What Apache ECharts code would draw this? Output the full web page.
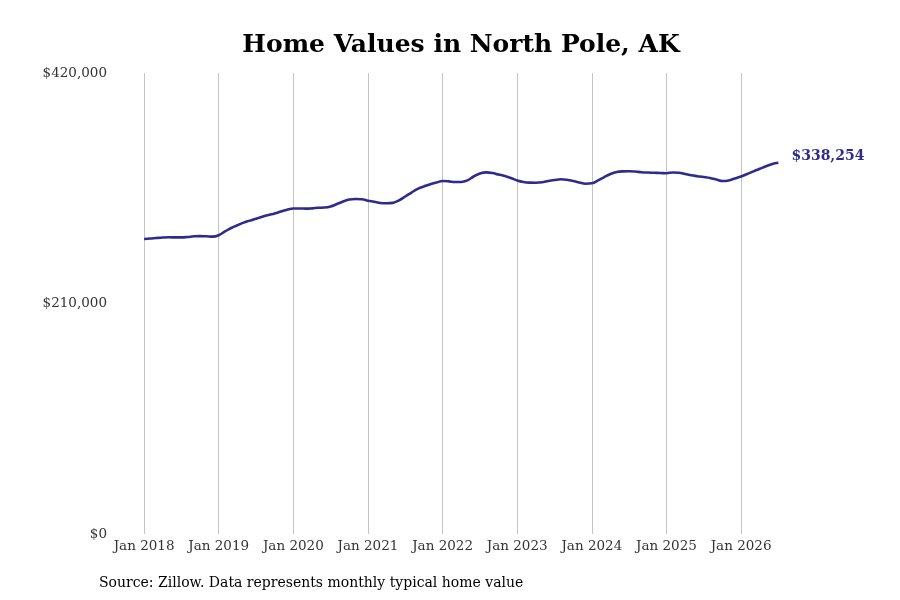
<!DOCTYPE html>
<html>
<head>
<meta charset="utf-8">
<script src="https://cdn.jsdelivr.net/npm/echarts@6/dist/echarts.min.js"></script>
<style>
html,body{margin:0;padding:0;background:#fff;}
#chart{width:900px;height:600px;}
</style>
</head>
<body>
<div id="chart"></div>
<script>
// Monthly typical home value, Jan 2018 .. Jul 2026
const values2018 = [268800, 269200, 269700, 270100, 270300, 270200, 270200, 270600, 271200, 271400, 271200, 270900];
const values2019 = [272200, 275600, 278800, 281300, 283700, 285500, 287300, 289000, 290600, 292100, 293800, 295500];
const values2020 = [296600, 296600, 296400, 296700, 297200, 297400, 298400, 300600, 302900, 304700, 305200, 305000];
const values2021 = [303700, 302700, 301600, 301300, 301700, 304000, 307500, 311100, 314500, 316600, 318600, 320200];
const values2022 = [321600, 321300, 320700, 320700, 322200, 325700, 328400, 329500, 328900, 327500, 326200, 324300];
const values2023 = [322100, 320700, 320100, 320000, 320400, 321600, 322500, 323200, 322700, 321600, 320200, 319100];
const values2024 = [319500, 322100, 325200, 328000, 329800, 330400, 330500, 330200, 329600, 329300, 329100, 328900];
const values2025 = [328700, 329400, 329100, 328000, 326800, 326000, 325200, 324300, 323000, 321600, 322100, 323900];
const values2026 = [325700, 328000, 330400, 332700, 335000, 337100, 338254];

const tickLabels = ['Jan 2018','Jan 2019','Jan 2020','Jan 2021','Jan 2022','Jan 2023','Jan 2024','Jan 2025','Jan 2026'];
const yTicks = [0, 210000, 420000];
const titleText = 'Home Values in North Pole, AK';
const sourceText = 'Source: Zillow. Data represents monthly typical home value';
const endLabelText = '$338,254';

const monthNames = ['Jan','Feb','Mar','Apr','May','Jun','Jul','Aug','Sep','Oct','Nov','Dec'];
const padBefore = 5, padAfter = 5;
const values = [].concat(values2018, values2019, values2020, values2021, values2022, values2023, values2024, values2025, values2026);

// category labels: padding months before/after the data range (for axis margins)
const categories = [];
const seriesData = [];
const total = padBefore + values.length + padAfter;
for (let i = 0; i < total; i++) {
  const m = i - padBefore; // months since Jan 2018
  const y = 2018 + Math.floor(m / 12);
  const mo = ((m % 12) + 12) % 12;
  categories.push(monthNames[mo] + ' ' + y);
  seriesData.push(m >= 0 && m < values.length ? values[m] : null);
}
const isTick = (idx, val) => tickLabels.indexOf(categories[idx]) >= 0;

const FONT = 'DejaVu Serif';
const chart = echarts.init(document.getElementById('chart'), null, {renderer: 'canvas'});
chart.setOption({
  animation: false,
  backgroundColor: '#fff',
  title: {
    text: titleText,
    left: 456, textAlign: 'center', top: 28,
    textStyle: {fontFamily: FONT, fontWeight: 'bold', fontSize: 25, color: '#000'}
  },
  grid: {left: 113, right: 90.5, top: 73, bottom: 66, containLabel: false},
  xAxis: {
    type: 'category',
    data: categories,
    boundaryGap: false,
    axisLine: {show: false},
    axisTick: {show: false},
    axisLabel: {
      interval: isTick,
      margin: 5,
      fontFamily: FONT, fontSize: 13.5, color: '#333'
    },
    splitLine: {show: true, interval: isTick, lineStyle: {color: '#c4c4c4', width: 1}}
  },
  yAxis: {
    type: 'value',
    min: yTicks[0], max: yTicks[yTicks.length - 1], interval: yTicks[1] - yTicks[0],
    axisLine: {show: false},
    axisTick: {show: false},
    splitLine: {show: false},
    axisLabel: {
      margin: 6,
      padding: [3, 0, 0, 0],
      fontFamily: FONT, fontSize: 13.5, color: '#333',
      formatter: v => '$' + v.toLocaleString('en-US')
    }
  },
  series: [{
    type: 'line',
    data: seriesData,
    smooth: 0.4,
    showSymbol: false,
    connectNulls: false,
    lineStyle: {color: '#2e2b8d', width: 2.6},
    itemStyle: {color: '#2e2b8d'},
    endLabel: {
      show: true,
      distance: 13,
      offset: [0, -6],
      formatter: () => endLabelText,
      fontFamily: FONT, fontWeight: 'bold', fontSize: 14, color: '#2e2b8d'
    }
  }],
  graphic: [{
    type: 'text',
    left: 99, top: 576,
    style: {text: sourceText, font: '14px "DejaVu Serif"', fill: '#000'}
  }]
});
</script>
</body>
</html>
